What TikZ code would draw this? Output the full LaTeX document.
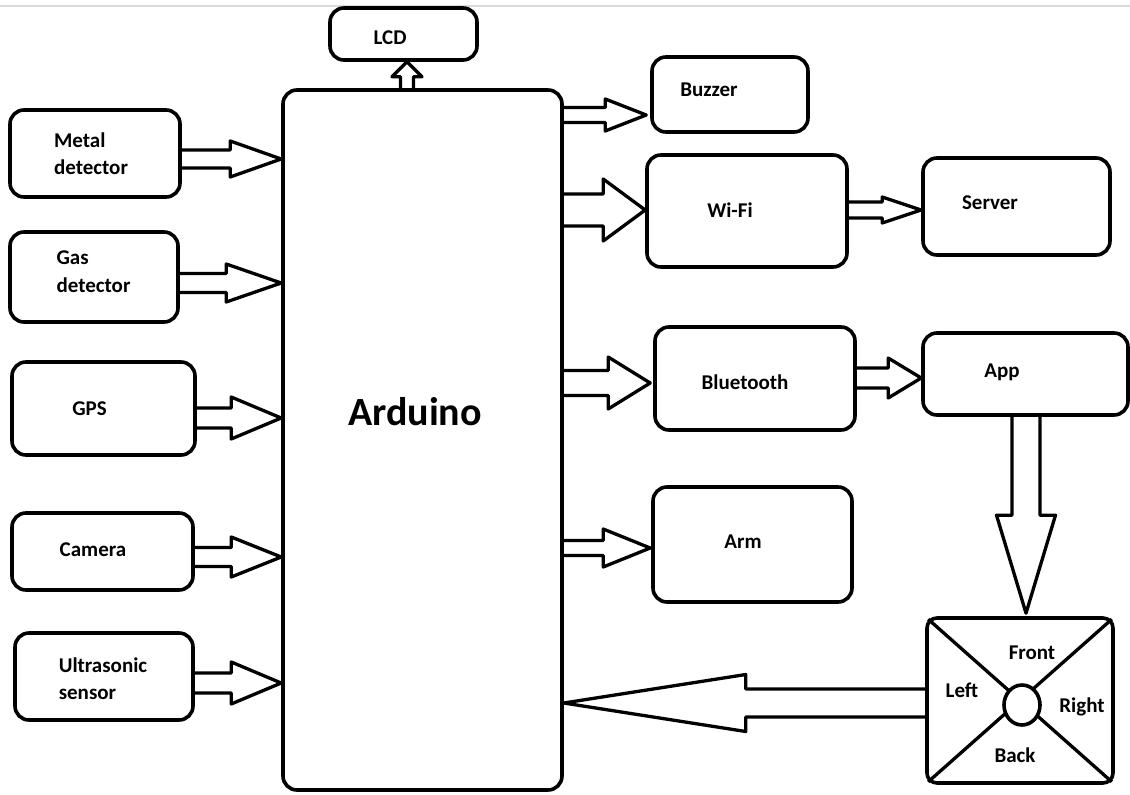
\documentclass[tikz,border=0pt]{standalone}
\usepackage{fontspec}
\setmainfont{Carlito}
\usetikzlibrary{calc,backgrounds,shapes.geometric}
% #1 start, #2 tip, #3 shaft half width, #4 head half width, #5 head length
\newcommand\fatarrow[5]{%
  \path[fatarr] let \p1=(#1), \p2=(#2),
     \n1={atan2(\y2-\y1,\x2-\x1)},
     \n2={veclen(\x2-\x1,\y2-\y1)} in
     [shift={(\p1)}, rotate=\n1]
     (0,#3) -- ({\n2-#5},#3) -- ({\n2-#5},#4) -- (\n2,0) -- ({\n2-#5},-#4) -- ({\n2-#5},-#3) -- (0,-#3);}
\begin{document}
\begin{tikzpicture}[x=1pt,y=-1pt,
  box/.style={draw, line width=3.6pt, rounded corners=14pt, fill=white, inner sep=0pt},
  lab/.style={font=\fontsize{21}{27.5}\selectfont\bfseries, inner sep=0pt},
  fatarr/.style={draw, line width=3.3pt, fill=white, line join=round},
  thin/.style={line width=3.3pt}]
\useasboundingbox (0,0) rectangle (1130,795);

% boxes
\node[box, minimum width=279pt, minimum height=700pt,
  label={[font=\fontsize{40}{48}\selectfont\bfseries, inner sep=0pt, xshift=-7.5pt, yshift=28pt]center:Arduino}]
  (ard) at (422.5,440) {};
\node[box, minimum width=147pt, minimum height=52pt,
  label={[lab, xshift=-13.5pt, yshift=-4pt]center:LCD}] (lcd) at (403.5,34) {};

\node[box, minimum width=170pt, minimum height=87pt,
  label={[lab, align=left, xshift=-4pt]center:Metal\\detector}] (metal) at (95,153.5) {};
\node[box, minimum width=168pt, minimum height=90pt,
  label={[lab, align=left, xshift=-0.5pt, yshift=5.5pt]center:Gas\\detector}] (gas) at (94,277) {};
\node[box, minimum width=183pt, minimum height=93pt,
  label={[lab, xshift=-14pt]center:GPS}] (gps) at (103.5,408.5) {};
\node[box, minimum width=181pt, minimum height=77pt,
  label={[lab, xshift=-9.5pt, yshift=1.5pt]center:Camera}] (cam) at (102.5,551.5) {};
\node[box, minimum width=178pt, minimum height=87pt,
  label={[lab, align=left, xshift=-1pt, yshift=-2pt]center:Ultrasonic\\sensor}] (ultra) at (104,676.5) {};

\node[box, minimum width=156pt, minimum height=75pt,
  label={[lab, xshift=-21pt, yshift=4.5pt]center:Buzzer}] (buzzer) at (730,94.5) {};
\node[box, minimum width=200pt, minimum height=112pt,
  label={[lab, xshift=-17pt, yshift=1pt]center:Wi-Fi}] (wifi) at (747,211) {};
\node[box, minimum width=187pt, minimum height=97pt,
  label={[lab, xshift=-26.5pt, yshift=3.5pt]center:Server}] (server) at (1016.5,206.5) {};
\node[box, minimum width=200pt, minimum height=103pt,
  label={[lab, xshift=-10pt, yshift=-3.5pt]center:Bluetooth}] (bt) at (755,378.5) {};
\node[box, minimum width=199pt, minimum height=115pt,
  label={[lab, xshift=-9.5pt, yshift=2.5pt]center:Arm}] (arm) at (752.5,544.5) {};
\node[box, minimum width=205pt, minimum height=82pt,
  label={[lab, xshift=-23.5pt, yshift=2pt]center:App}] (app) at (1025.5,374) {};

% joystick
\node[box, rounded corners=10pt, minimum width=186pt, minimum height=165pt] (joy) at (1020,700.5) {};
\draw[thin] ($(joy.north west)+(3,3)$) -- ($(joy.south east)+(-3,-3)$);
\draw[thin] ($(joy.north east)+(-3,3)$) -- ($(joy.south west)+(3,-3)$);
\node[draw, ellipse, line width=3.6pt, fill=white, minimum width=36pt, minimum height=40pt, inner sep=0pt]
  (knob) at ($(joy.center)+(2,4.5)$) {};
\node[lab] (front) at ($(joy.center)+(12,-47.5)$) {Front};
\node[lab] (left) at ($(joy.center)+(-58,-10.5)$) {Left};
\node[lab] (right) at ($(joy.center)+(62,6.5)$) {Right};
\node[lab] (back) at ($(joy.center)+(-5,54.5)$) {Back};

% anchor coordinates for connectors
\coordinate (a1) at ($(metal.east)+(0,5.5)$);
\coordinate (a2) at ($(gas.east)+(0,6)$);
\coordinate (a3) at ($(gps.east)+(0,9.5)$);
\coordinate (a4) at ($(cam.east)+(0,5.5)$);
\coordinate (a5) at ($(ultra.east)+(0,6.5)$);
\coordinate (b1) at ($(buzzer.west)+(-4,20.5)$);
\coordinate (b2) at ($(wifi.west)+(0,-1)$);
\coordinate (b3) at ($(server.west)+(0,3.5)$);
\coordinate (b4) at ($(bt.west)+(-3,4.5)$);
\coordinate (b5) at ($(arm.west)+(-1,3.5)$);
\coordinate (b6) at ($(app.west)+(0,4)$);
\coordinate (b7) at ($(joy.north)+(6,-3)$);
\coordinate (b8) at ($(joy.west)+(0,2.5)$);
\coordinate (b9) at ($(ard.north)+(-15.5,0)$);

\begin{pgfonlayer}{background}
\draw[black!14, line width=1.2pt] (0,6) -- (1130,6);
\fatarrow{a1}{a1 -| ard.west}{9}{18}{51}
\fatarrow{a2}{a2 -| ard.west}{9.5}{19}{55}
\fatarrow{a3}{a3 -| ard.west}{10}{21}{50}
\fatarrow{a4}{a4 -| ard.west}{9.5}{20}{50}
\fatarrow{a5}{a5 -| ard.west}{10}{21}{50}
\fatarrow{b1 -| ard.east}{b1}{7.5}{16}{41}
\fatarrow{b2 -| ard.east}{b2}{16}{31}{42}
\fatarrow{b3 -| wifi.east}{b3}{8}{13}{39}
\fatarrow{b4 -| ard.east}{b4}{12.5}{26}{42}
\fatarrow{b5 -| ard.east}{b5}{7.5}{19}{47}
\fatarrow{b6 -| bt.east}{b6}{10}{20}{33}
\fatarrow{b7 |- app.south}{b7}{14}{29.5}{98}
\fatarrow{b8}{b8 -| ard.east}{14}{28.5}{182}
\fatarrow{b9}{b9 |- lcd.south}{6.5}{15}{15}
\end{pgfonlayer}
\end{tikzpicture}
\end{document}
